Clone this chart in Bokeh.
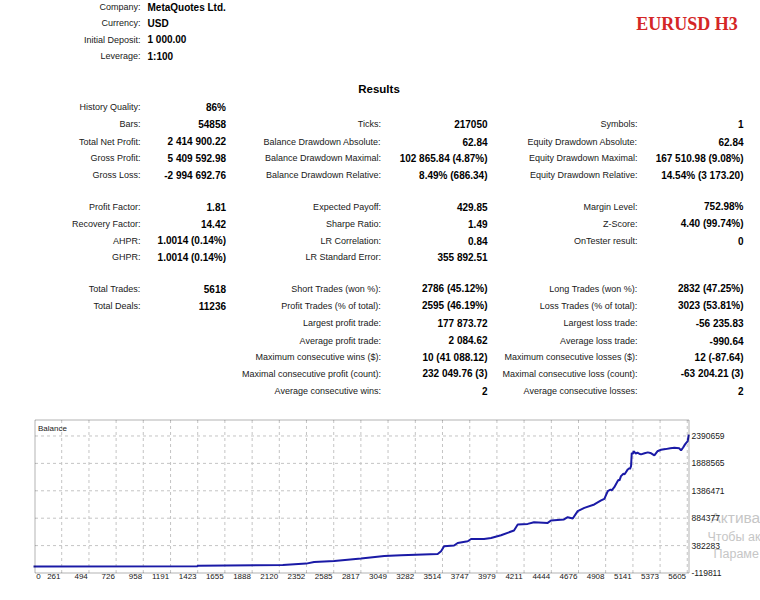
from bokeh.plotting import figure
from bokeh.models import Range1d, ColumnDataSource, FixedTicker, BoxAnnotation
from bokeh.embed import file_html
from bokeh.resources import INLINE
from bokeh.core.properties import value

# ---------------- report data ----------------
symbol_title = "EURUSD H3"
results_title = "Results"
info_labels = ["Company:", "Currency:", "Initial Deposit:", "Leverage:"]
info_values = ["MetaQuotes Ltd.", "USD", "1 000.00", "1:100"]

col1_labels = ["History Quality:", "Bars:", "Total Net Profit:", "Gross Profit:", "Gross Loss:", "",
               "Profit Factor:", "Recovery Factor:", "AHPR:", "GHPR:", "",
               "Total Trades:", "Total Deals:", "", "", "", "", ""]
col1_values = ["86%", "54858", "2 414 900.22", "5 409 592.98", "-2 994 692.76", "",
               "1.81", "14.42", "1.0014 (0.14%)", "1.0014 (0.14%)", "",
               "5618", "11236", "", "", "", "", ""]
col2_labels = ["", "Ticks:", "Balance Drawdown Absolute:", "Balance Drawdown Maximal:", "Balance Drawdown Relative:", "",
               "Expected Payoff:", "Sharpe Ratio:", "LR Correlation:", "LR Standard Error:", "",
               "Short Trades (won %):", "Profit Trades (% of total):", "Largest profit trade:", "Average profit trade:",
               "Maximum consecutive wins ($):", "Maximal consecutive profit (count):", "Average consecutive wins:"]
col2_values = ["", "217050", "62.84", "102 865.84 (4.87%)", "8.49% (686.34)", "",
               "429.85", "1.49", "0.84", "355 892.51", "",
               "2786 (45.12%)", "2595 (46.19%)", "177 873.72", "2 084.62",
               "10 (41 088.12)", "232 049.76 (3)", "2"]
col3_labels = ["", "Symbols:", "Equity Drawdown Absolute:", "Equity Drawdown Maximal:", "Equity Drawdown Relative:", "",
               "Margin Level:", "Z-Score:", "OnTester result:", "", "",
               "Long Trades (won %):", "Loss Trades (% of total):", "Largest loss trade:", "Average loss trade:",
               "Maximum consecutive losses ($):", "Maximal consecutive loss (count):", "Average consecutive losses:"]
col3_values = ["", "1", "62.84", "167 510.98 (9.08%)", "14.54% (3 173.20)", "",
               "752.98%", "4.40 (99.74%)", "0", "", "",
               "2832 (47.25%)", "3023 (53.81%)", "-56 235.83", "-990.64",
               "12 (-87.64)", "-63 204.21 (3)", "2"]
chart_title = "Balance"
watermark_lines = ["Актива", "Чтобы ак", "Параме"]

# ---------------- balance data ----------------
trades = [0, 1420, 1425, 2150, 2350, 2417, 2590, 2818, 3017, 3160, 3473, 3502, 3528, 3613, 3644,
          3730, 3758, 3869, 3929, 4014, 4125, 4157, 4242, 4296, 4413, 4441, 4552, 4584, 4627,
          4669, 4726, 4811, 4869, 4897, 4926, 4950, 4960, 4982, 5011, 5020, 5025, 5039, 5060,
          5070, 5097, 5110, 5115, 5125, 5131, 5140, 5147, 5153, 5165, 5180, 5195, 5210, 5240,
          5268, 5290, 5324, 5350, 5381, 5420, 5460, 5495, 5537, 5552, 5570, 5586, 5609, 5618]
balance = [1000, 3500, 14000, 28000, 52000, 80000, 100000, 145000, 192000, 205000, 229000, 278000,
           370000, 383000, 431000, 462000, 504000, 504000, 523000, 572000, 659000, 769000, 780000,
           811000, 798000, 842000, 861000, 903000, 879000, 1013000, 1073000, 1136000, 1209000,
           1239000, 1380000, 1410000, 1395000, 1453000, 1564000, 1590000, 1570000, 1655000,
           1700000, 1690000, 1778000, 1800000, 1785000, 1839000, 2083000, 2060000, 2110000,
           2096000, 2070000, 2085000, 2065000, 2054000, 2075000, 2090000, 2080000, 2035000,
           2110000, 2138000, 2150000, 2165000, 2175000, 2164000, 2127000, 2180000, 2237000,
           2298000, 2415900]

y_tick_values = [-119811, 382283, 884377, 1386471, 1888565, 2390659]
x_grid_values = [261, 494, 726, 958, 1191, 1423, 1655, 1888, 2120, 2352, 2585, 2817, 3049, 3282,
                 3514, 3747, 3979, 4211, 4444, 4676, 4908, 5141, 5373, 5605]
x_first_label = 0

# ---------------- layout / styles (page pixels) ----------------
W, H = 760, 600
F_L, F_R, F_T, F_B = 33, 760, 0, 579            # plotting frame
CH_L, CH_R, CH_T, CH_B = 34.5, 688.5, 419.5, 572.5  # balance chart box
X_START, X_END = 33, 5620
Y_BOT, Y_TOP = -119811, 2683400
FONT = value("Liberation Sans")
ROW_Y = [106.7, 123.3, 141, 157.7, 174.7, 190, 206, 223.3, 240.3, 256.7, 272,
         288.3, 305.3, 322.7, 340, 356.7, 373.3, 390]
INFO_Y = [6.5, 22.7, 39, 55.7]

kx = (CH_R - CH_L) / (X_END - X_START)
ky = (CH_B - CH_T) / (Y_TOP - Y_BOT)
x_range = Range1d(X_START - (CH_L - F_L) / kx, X_END + (F_R - CH_R) / kx)
y_range = Range1d(Y_BOT - (F_B - CH_B) / ky, Y_TOP + (CH_T - F_T) / ky)

p = figure(width=W, height=H, x_range=x_range, y_range=y_range, output_backend="svg",
           toolbar_location=None, y_axis_location=None, min_border_left=F_L,
           min_border_right=W - F_R, min_border_top=F_T, min_border_bottom=H - F_B)
p.extra_x_ranges = {"page": Range1d(F_L, F_R)}
p.extra_y_ranges = {"page": Range1d(F_B, F_T)}
p.outline_line_color = None
p.grid.visible = False


def add_texts(xs, ys, texts, align, bold, size, color, font=FONT):
    src = ColumnDataSource(dict(x=xs, y=ys, text=texts))
    p.text(x="x", y="y", text="text", source=src, x_range_name="page", y_range_name="page",
           text_align=align, text_baseline="middle", text_font=font, text_font_size=size,
           text_font_style="bold" if bold else "normal", text_color=color)


def add_column(labels, values, label_right, value_right):
    ly = [ROW_Y[i] for i, t in enumerate(labels) if t]
    lt = [t for t in labels if t]
    vy = [ROW_Y[i] for i, t in enumerate(values) if t]
    vt = [t for t in values if t]
    add_texts([label_right] * len(lt), ly, lt, "right", False, "9px", "#202020")
    add_texts([value_right] * len(vt), vy, vt, "right", True, "10px", "#000000")


# ---------------- report text ----------------
add_texts([140] * len(info_labels), INFO_Y, info_labels, "right", False, "9px", "#202020")
add_texts([147] * len(info_values), INFO_Y, info_values, "left", True, "10px", "#000000")
add_column(col1_labels, col1_values, 140, 225.5)
add_column(col2_labels, col2_values, 380.5, 487)
add_column(col3_labels, col3_values, 637, 743)
add_texts([378.5], [88.5], [results_title], "center", True, "11.5px", "#000000")
add_texts([686.5], [23], [symbol_title], "center", True, "18px", "#d42626",
          font=value("Liberation Serif"))

# watermark of the screenshot (behind the chart labels)
add_texts([710], [517], watermark_lines[:1], "left", False, "15.5px", "#c6c6c6")
add_texts([707, 713], [536, 553], watermark_lines[1:], "left", False, "12.5px", "#c6c6c6")

# ---------------- balance chart ----------------
n_x = len(x_grid_values)
p.segment(x0=x_grid_values, x1=x_grid_values, y0=[Y_BOT] * n_x, y1=[Y_TOP] * n_x,
          line_color="#c4c4c4", line_dash="3 3", line_width=1)
y_lines = y_tick_values[1:]
p.segment(x0=[X_START] * len(y_lines), x1=[X_END] * len(y_lines), y0=y_lines, y1=y_lines,
          line_color="#c4c4c4", line_dash="3 3", line_width=1)

p.line(trades, balance, line_color="#1a1aa6", line_width=2)

p.add_layout(BoxAnnotation(left=X_START, right=X_END, bottom=Y_BOT, top=Y_TOP,
                           fill_alpha=0, line_color="#000000", line_width=1, level="overlay"))

# right-hand value labels, placed through the chart's y scale
p.text(x=[X_END] * len(y_tick_values), y=y_tick_values, text=[str(v) for v in y_tick_values],
       x_offset=2.5, text_align="left", text_baseline="middle", text_font=FONT,
       text_font_size="8.5px", text_color="#202020")

# bottom axis: labels sit just left of their grid line, as in the terminal report
digit_px = 4.45
label_pos = [int(round(X_START + (1.3 + digit_px / 2) / kx))]
label_txt = [str(x_first_label)]
for g in x_grid_values:
    s = str(g)
    label_pos.append(int(round(g - (len(s) * digit_px / 2 + 1.2) / kx)))
    label_txt.append(s)

xa = p.xaxis[0]
xa.ticker = FixedTicker(ticks=label_pos)
xa.major_label_overrides = {q: t for q, t in zip(label_pos, label_txt)}
xa.major_tick_out = 0
xa.major_tick_in = 0
xa.minor_tick_out = 0
xa.minor_tick_in = 0
xa.axis_line_color = None
xa.major_label_standoff = -6
xa.major_label_text_font = "Liberation Sans"
xa.major_label_text_font_size = "8px"
xa.major_label_text_color = "#202020"

add_texts([37.5], [427.5], [chart_title], "left", False, "8px", "#202020")

open("out.html", "w").write(file_html(p, INLINE))
